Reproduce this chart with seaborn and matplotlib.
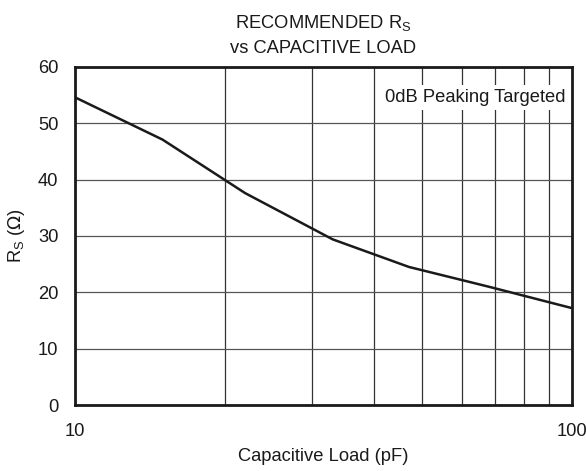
import numpy as np
import pandas as pd
import matplotlib
matplotlib.use("Agg")
import matplotlib.pyplot as plt
import seaborn as sns

# values
load_pf = [10, 15, 22, 33, 47, 68, 100]
rs_ohm = [54.6, 47.1, 37.6, 29.4, 24.5, 21.0, 17.2]

x_ticks = [10, 100]
y_ticks = [0, 10, 20, 30, 40, 50, 60]

sns.set_theme(style="white")
plt.rcParams['font.family'] = ['Liberation Sans', 'DejaVu Sans']

FS = 13.2
INK = "#1a1a1a"

df = pd.DataFrame({"load": load_pf, "rs": rs_ohm})

fig = plt.figure(figsize=(5.86, 4.71), dpi=100)
ax = fig.add_axes([0.128, 0.140, 0.848, 0.718])

sns.lineplot(data=df, x="load", y="rs", ax=ax, color=INK, linewidth=1.8)

ax.set_xscale("log")
ax.set_xlim(10, 100)
ax.set_ylim(0, 60)
ax.set_xticks(x_ticks)
ax.set_xticklabels([str(t) for t in x_ticks])
ax.set_xticks(np.arange(20, 100, 10), minor=True)
ax.xaxis.set_minor_formatter(matplotlib.ticker.NullFormatter())
ax.set_yticks(y_ticks)

ax.grid(which="both", axis="x", color="#333333", linewidth=0.9)
ax.grid(which="major", axis="y", color="#555555", linewidth=0.9)
ax.set_axisbelow(True)

for s in ax.spines.values():
    s.set_color(INK)
    s.set_linewidth(2)

ax.tick_params(axis="x", which="both", length=0, pad=13, labelsize=FS, colors=INK)
ax.tick_params(axis="y", length=0, pad=12, labelsize=FS, colors=INK)

ax.set_xlabel("Capacitive Load (pF)", fontsize=FS, labelpad=6, color=INK)
ax.set_ylabel(r"R$_{\mathregular{S}}$ ($\Omega$)", fontsize=FS, labelpad=8, color=INK)
ax.set_title("RECOMMENDED R$_{\\mathregular{S}}$\nvs CAPACITIVE LOAD", fontsize=FS,
             pad=10, color=INK, linespacing=1.5)

ax.text(0.988, 0.91, "0dB Peaking Targeted", transform=ax.transAxes, ha="right", va="center",
        fontsize=FS, color=INK,
        bbox=dict(facecolor="white", edgecolor="none", pad=3))

fig.savefig("out.png", dpi=100)
